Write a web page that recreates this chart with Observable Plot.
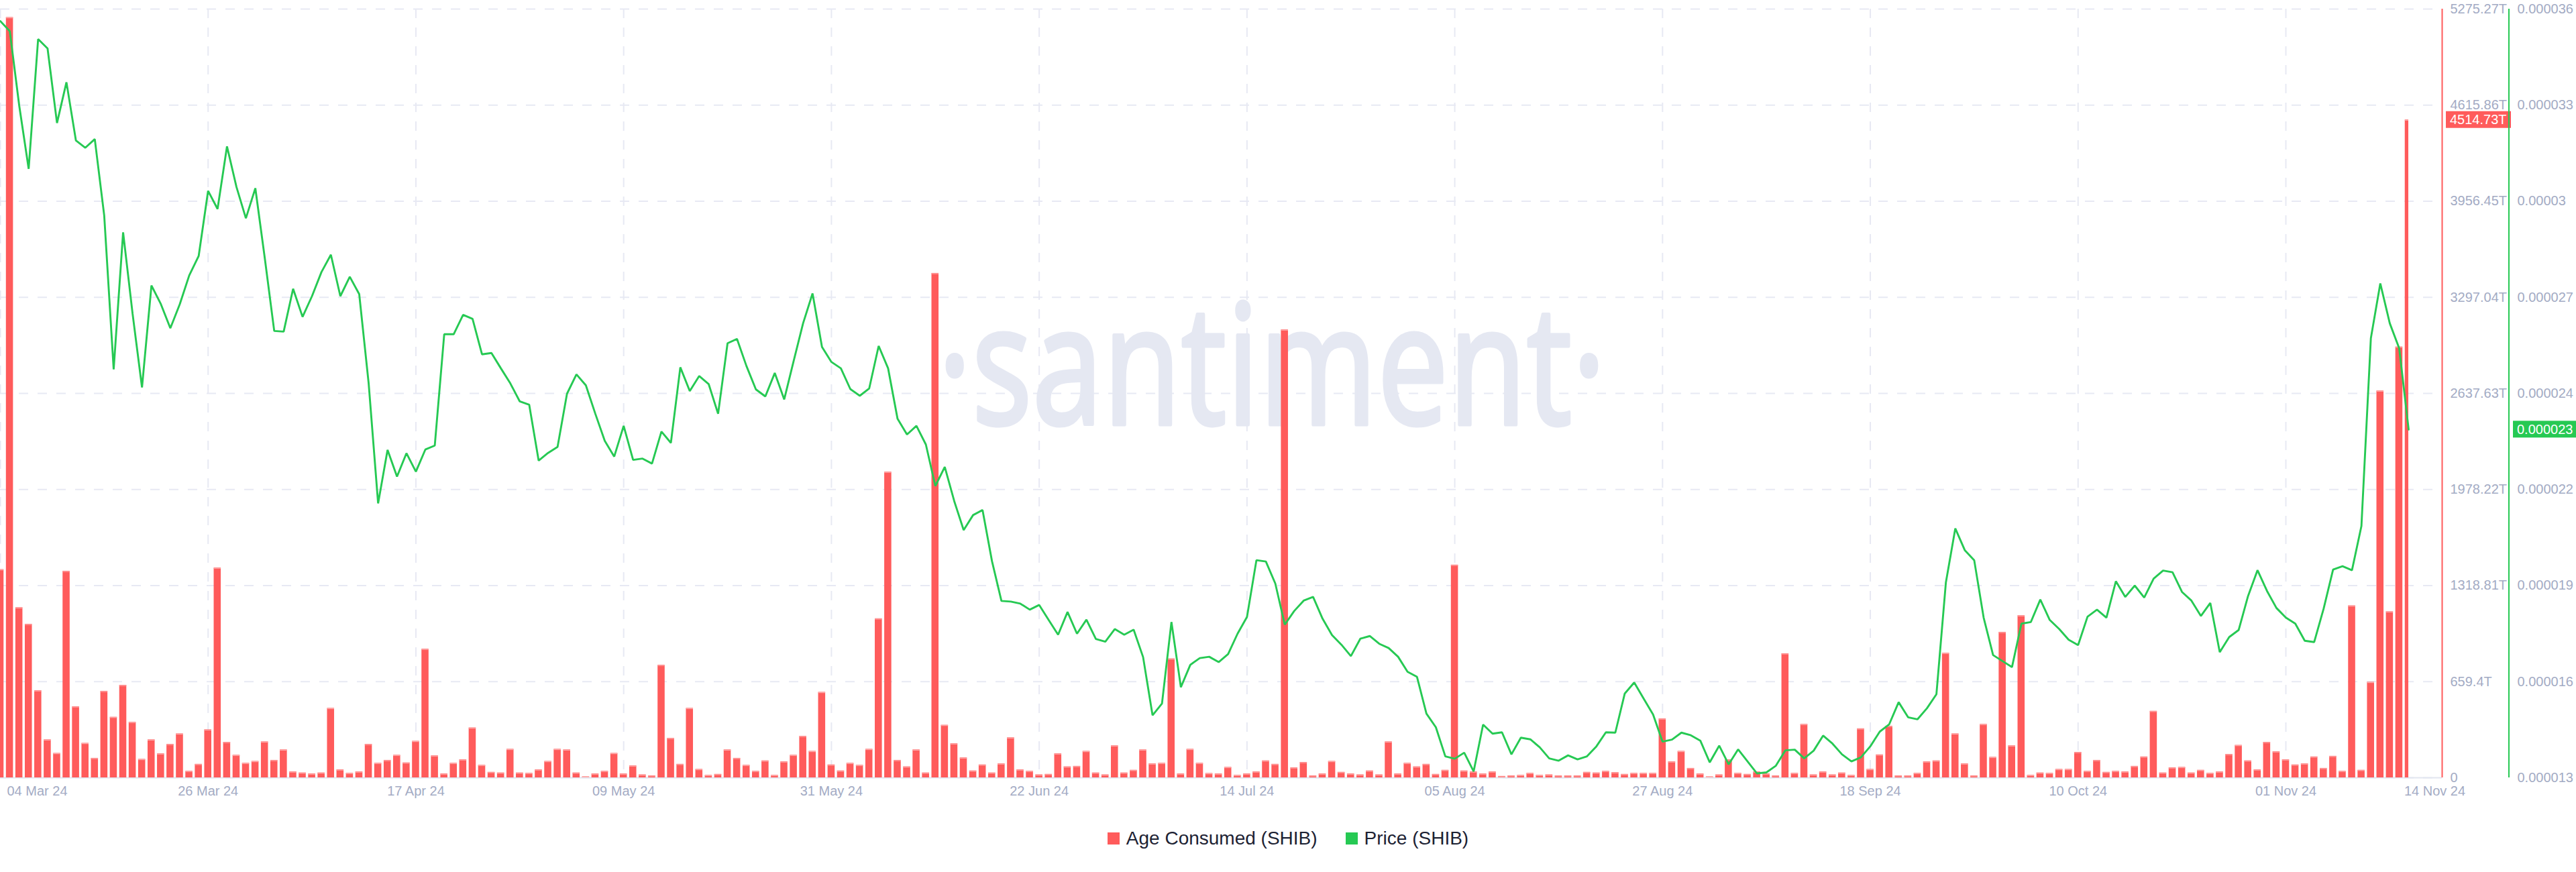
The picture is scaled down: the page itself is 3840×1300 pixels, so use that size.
<!DOCTYPE html>
<html>
<head>
<meta charset="utf-8">
<script src="https://cdn.jsdelivr.net/npm/d3@7"></script>
<script src="https://cdn.jsdelivr.net/npm/@observablehq/plot@0.6"></script>
<style>
  html, body { margin: 0; padding: 0; background: #ffffff; overflow: hidden; }
  #wrap { position: relative; width: 3840px; height: 1300px; overflow: hidden; font-family: "Liberation Sans", Arial, sans-serif; }
  #chart { position: absolute; left: 0; top: 0; }
  #legend { position: absolute; left: 0; top: 1200px; width: 3840px; height: 100px; display: flex; justify-content: center; align-items: center; gap: 42px; font-size: 28px; color: #1d2233; }
  .item { display: flex; align-items: center; gap: 10px; }
  .sw { width: 18px; height: 18px; display: inline-block; }
</style>
</head>
<body>
<div id="wrap"><div id="chart"></div><div id="legend"></div></div>
<script>
// ---------------- data ----------------
const startDay = "2024-03-04";           // first daily sample
const seriesNames = ["Age Consumed (SHIB)", "Price (SHIB)"];
const seriesColors = ["#ff5b5b", "#26c953"];

// Age Consumed, in trillions (T), one value per day from 04 Mar 24 to 14 Nov 24
const ageConsumedT = [
  1429,5218,1168,1054,598,261,168,1418,488,237,134,594,416,635,381,127,261,165,230,302,
  45,93,330,1440,244,155,100,113,247,120,192,41,34,27,34,477,55,31,41,230,
  100,120,155,103,251,883,151,27,100,124,343,86,38,34,196,34,31,55,113,196,
  192,34,7,27,45,168,27,82,21,14,773,271,93,477,58,17,24,192,134,86,
  45,117,17,110,155,285,182,587,89,48,100,86,196,1092,2098,120,76,192,34,3462,
  361,234,137,48,89,34,96,275,55,45,21,24,165,76,79,182,34,21,220,34,
  52,192,96,100,817,27,196,100,30,27,72,17,27,41,117,93,3074,69,106,14,
  27,113,38,27,21,48,21,247,27,100,76,93,24,52,1460,48,41,27,41,10,
  14,17,31,17,21,14,14,14,38,34,45,36,24,31,31,31,405,110,182,65,
  27,7,21,124,31,24,41,27,14,852,31,367,21,41,21,34,17,337,58,158,
  354,14,14,31,110,117,855,302,96,14,367,141,999,220,1113,17,34,31,58,58,
  175,45,120,38,45,41,79,144,457,34,69,72,34,52,31,41,161,223,117,55,
  244,179,124,89,96,144,65,148,45,1181,52,656,2655,1140,2957,4514.73
];

// Price, in millionths of a US dollar (x 1e-6 USD), same days
const priceMicroUSD = [
  35.64,35.34,33.11,31.22,35.10,34.82,32.59,33.81,32.07,31.85,32.11,29.82,25.22,29.32,26.89,24.68,27.73,27.17,26.45,27.17,
  28.03,28.61,30.56,30.02,31.89,30.68,29.74,30.64,28.55,26.37,26.35,27.63,26.79,27.41,28.13,28.65,27.41,27.99,27.47,24.80,
  21.21,22.81,22.01,22.71,22.16,22.82,22.94,26.27,26.27,26.85,26.73,25.67,25.71,25.25,24.80,24.26,24.16,22.49,22.72,22.90,
  24.49,25.07,24.74,23.89,23.08,22.61,23.53,22.51,22.55,22.40,23.36,23.02,25.28,24.57,25.02,24.78,23.89,26.00,26.13,25.32,
  24.62,24.41,25.11,24.32,25.47,26.60,27.49,25.89,25.44,25.25,24.63,24.43,24.65,25.92,25.25,23.74,23.27,23.53,22.97,21.73,
  22.30,21.28,20.41,20.86,21.01,19.48,18.29,18.27,18.21,18.03,18.17,17.72,17.28,17.96,17.31,17.73,17.15,17.07,17.45,17.28,
  17.43,16.61,14.87,15.22,17.66,15.71,16.38,16.58,16.62,16.46,16.70,17.31,17.81,19.51,19.47,18.81,17.58,17.99,18.30,18.41,
  17.76,17.27,16.98,16.64,17.16,17.24,17.01,16.88,16.62,16.17,16.02,14.92,14.51,13.64,13.57,13.75,13.19,14.59,14.32,14.36,
  13.70,14.20,14.15,13.91,13.58,13.51,13.67,13.55,13.64,13.94,14.36,14.35,15.52,15.85,15.37,14.89,14.08,14.14,14.35,14.27,
  14.11,13.46,13.96,13.40,13.85,13.49,13.13,13.16,13.36,13.82,13.84,13.58,13.81,14.26,14.02,13.70,13.49,13.61,13.94,14.38,
  14.60,15.26,14.81,14.75,15.08,15.50,18.84,20.46,19.81,19.51,17.79,16.67,16.49,16.31,17.61,17.66,18.33,17.72,17.45,17.13,
  16.97,17.82,18.03,17.79,18.88,18.41,18.75,18.39,18.96,19.20,19.15,18.56,18.30,17.84,18.23,16.76,17.21,17.42,18.44,19.21,
  18.59,18.08,17.79,17.61,17.10,17.06,18.06,19.23,19.33,19.21,20.53,26.15,27.79,26.60,25.85,23.42
];

// Left (Age Consumed) axis
const ageTickValues = [0, 659.41, 1318.82, 1978.22, 2637.63, 3297.04, 3956.45, 4615.86, 5275.27];
const ageTickLabels = ["0", "659.4T", "1318.81T", "1978.22T", "2637.63T", "3297.04T", "3956.45T", "4615.86T", "5275.27T"];
// Right (Price) axis, micro-USD
const priceTickValues = [13, 15.875, 18.75, 21.625, 24.5, 27.375, 30.25, 33.125, 36];
const priceTickLabels = ["0.000013", "0.000016", "0.000019", "0.000022", "0.000024", "0.000027", "0.00003", "0.000033", "0.000036"];

// Date axis
const dateTickDays = ["2024-03-04","2024-03-26","2024-04-17","2024-05-09","2024-05-31","2024-06-22","2024-07-14","2024-08-05","2024-08-27","2024-09-18","2024-10-10","2024-11-01"];
const dateTickLabels = ["04 Mar 24","26 Mar 24","17 Apr 24","09 May 24","31 May 24","22 Jun 24","14 Jul 24","05 Aug 24","27 Aug 24","18 Sep 24","10 Oct 24","01 Nov 24"];
const lastDay = "2024-11-14";
const lastDayLabel = "14 Nov 24";
const lastAgeLabel = "4514.73T";
const lastPriceLabel = "0.000023";

// ---------------- build ----------------
const DAY = 864e5;
const t0 = new Date(startDay + "T00:00:00Z");
const ageMax = ageTickValues[ageTickValues.length - 1];
const pMin = priceTickValues[0], pMax = priceTickValues[priceTickValues.length - 1];
const priceToAge = p => (p - pMin) / (pMax - pMin) * ageMax;

const rows = ageConsumedT.map((a, i) => ({
  date: new Date(+t0 + i * DAY),
  age: a,
  price: priceMicroUSD[i],
  priceY: priceToAge(priceMicroUSD[i])
}));
const tLast = new Date(lastDay + "T00:00:00Z");
const xEnd = new Date(+tLast + 3.55 * DAY);
const half = 0.375 * DAY;

const red = seriesColors[0], green = seriesColors[1];
const axisColor = "#a3abc4";
const gridColor = "#e7e9f3";
const gridStyle = { stroke: gridColor, strokeOpacity: 1, strokeWidth: 2, strokeDasharray: "14,14" };

const tickDates = dateTickDays.map(s => new Date(s + "T00:00:00Z"));
const xLab = tickDates.map((d, i) => ({ date: d, label: dateTickLabels[i] }));

const chart = Plot.plot({
  width: 3840,
  height: 1200,
  marginLeft: 0,
  marginRight: 200,
  marginTop: 13,
  marginBottom: 41,
  style: { fontFamily: "'Liberation Sans', Arial, sans-serif", fontSize: "20px", overflow: "visible", background: "transparent" },
  x: { type: "utc", domain: [t0, xEnd], axis: null },
  y: { domain: [0, ageMax], axis: null },
  marks: [
    Plot.gridY(ageTickValues, gridStyle),
    Plot.gridX(tickDates, gridStyle),
    Plot.ruleY([0], { stroke: "#e2e6f0", strokeWidth: 2 }),
    Plot.rect(rows, {
      x1: d => new Date(+d.date - half),
      x2: d => new Date(Math.min(+d.date + half, +tLast)),
      y1: 0, y2: "age", fill: red, clip: true
    }),
    Plot.ruleY(rows, {
      x1: d => new Date(+d.date - half),
      x2: d => new Date(Math.min(+d.date + half, +tLast)),
      y: "age", stroke: "#ffadad", strokeWidth: 1.2, dy: 0.6, clip: true
    }),
    Plot.line(rows, { x: "date", y: "priceY", stroke: green, strokeWidth: 2.9, strokeLinejoin: "miter" }),
    // axis lines
    Plot.ruleX([xEnd], { stroke: red, strokeWidth: 2 }),
    // axis labels
    Plot.text(ageTickValues, { y: d => d, frameAnchor: "right", text: (d, i) => ageTickLabels[i], dx: 12, textAnchor: "start", fill: axisColor, fontSize: 20 }),
    Plot.text(priceTickValues, { y: d => priceToAge(d), frameAnchor: "right", text: (d, i) => priceTickLabels[i], dx: 112, textAnchor: "start", fill: axisColor, fontSize: 20 }),
    Plot.text(xLab.slice(0, 1), { x: "date", text: "label", frameAnchor: "bottom", dy: 20, dx: 10, lineAnchor: "middle", textAnchor: "start", fill: axisColor, fontSize: 20 }),
    Plot.text(xLab.slice(1), { x: "date", text: "label", frameAnchor: "bottom", dy: 20, lineAnchor: "middle", textAnchor: "middle", fill: axisColor, fontSize: 20 }),
    Plot.text([{ date: tLast, label: lastDayLabel }], { x: "date", text: "label", frameAnchor: "bottom", dy: 20, dx: 39, lineAnchor: "middle", textAnchor: "middle", fill: axisColor, fontSize: 20 })
  ]
});
document.getElementById("chart").appendChild(chart);

// scales for the decorations
const sx = chart.scale("x"), sy = chart.scale("y");
const X = sx && sx.apply ? v => sx.apply(v) : d3.scaleUtc([t0, xEnd], [0, 3640]);
const Y = sy && sy.apply ? v => sy.apply(v) : d3.scaleLinear([0, ageMax], [1159, 13]);

const svg = d3.select(chart);
// watermark behind the bars
const firstRect = chart.querySelector('g[aria-label="rect"]');
const wm = document.createElementNS("http://www.w3.org/2000/svg", "text");
chart.insertBefore(wm, firstRect);
d3.select(wm)
  .attr("x", 1896).attr("y", 633)
  .attr("text-anchor", "middle")
  .attr("font-family", "'Noto Sans', 'Open Sans', sans-serif")
  .attr("font-size", 248)
  .attr("textLength", 996)
  .attr("lengthAdjust", "spacingAndGlyphs")
  .attr("fill", "#e5e8f2")
  .attr("stroke", "#e5e8f2")
  .attr("stroke-width", 5)
  .attr("stroke-linejoin", "round")
  .text("\u00B7santiment\u00B7");

// last value badges
const xe = X(xEnd);
const yA = Y(ageConsumedT[ageConsumedT.length - 1]);
const yP = Y(priceToAge(priceMicroUSD[priceMicroUSD.length - 1]));
const badges = svg.append("g").attr("text-anchor", "start").attr("font-size", 20);
badges.append("rect").attr("x", xe + 6).attr("y", yA - 12.5).attr("width", 97).attr("height", 25).attr("fill", red);
badges.append("text").attr("x", xe + 12).attr("y", yA).attr("dy", "0.35em").attr("fill", "#fff").attr("text-anchor", "start").text(lastAgeLabel);
badges.append("rect").attr("x", xe + 106).attr("y", yP - 12.5).attr("width", 94).attr("height", 25).attr("fill", green);
badges.append("text").attr("x", xe + 112).attr("y", yP).attr("dy", "0.35em").attr("fill", "#fff").attr("text-anchor", "start").text(lastPriceLabel);

// green (price) axis line, drawn last so it sits over the red badge
const sy2 = chart.scale("y");
svg.append("line")
  .attr("x1", xe + 100).attr("x2", xe + 100)
  .attr("y1", Y(ageMax)).attr("y2", Y(0))
  .attr("stroke", green).attr("stroke-width", 2);

// legend
const legend = d3.select("#legend");
seriesNames.forEach((n, i) => {
  const it = legend.append("div").attr("class", "item");
  it.append("span").attr("class", "sw").style("background", seriesColors[i]);
  it.append("span").text(n);
});
</script>
</body>
</html>
